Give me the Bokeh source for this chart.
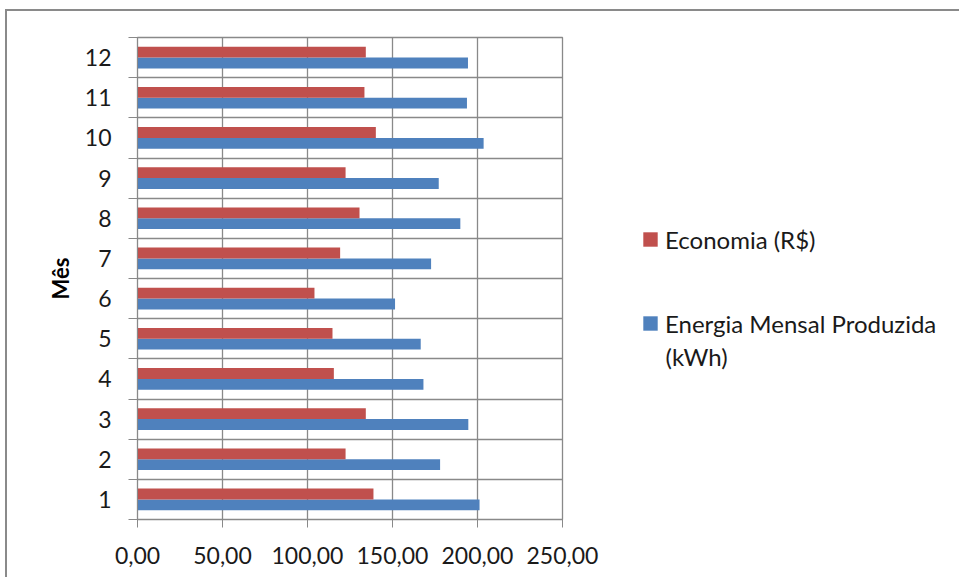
from bokeh.plotting import figure
from bokeh.models import (ColumnDataSource, Range1d, FixedTicker, Legend, LegendItem, Label)
from bokeh.layouts import row
from bokeh.transform import dodge
from bokeh.embed import file_html
from bokeh.resources import INLINE

# ---- data ----
meses = [1, 2, 3, 4, 5, 6, 7, 8, 9, 10, 11, 12]
economia = [138.8, 122.4, 134.3, 115.5, 114.7, 104.1, 119.2, 130.6, 122.4, 140.2, 133.5, 134.3]
energia = [201.2, 178.0, 194.6, 168.2, 166.6, 151.5, 172.7, 189.9, 177.2, 203.6, 193.8, 194.4]
x_ticks = [0, 50, 100, 150, 200, 250]
x_tick_labels = ["0,00", "50,00", "100,00", "150,00", "200,00", "250,00"]
serie_economia = "Economia (R$)"
serie_energia = "Energia Mensal Produzida (kWh)"
y_label = "Mês"

FONT = "Lato"
GRID = "#898989"
RED = "#C0504D"
BLUE = "#4F81BD"
TXT = "#1a1a1a"

W, H = 959, 577
TOP, BOTTOM = 37, 58
P_W = 602

src = ColumnDataSource(dict(mes=meses, economia=economia, energia=energia))

# ---------------- main chart ----------------
p = figure(width=P_W, height=H, output_backend="svg", toolbar_location=None,
           x_range=Range1d(0, 250), y_range=Range1d(0.5, 12.5),
           min_border_left=137, min_border_right=40, min_border_top=TOP,
           min_border_bottom=BOTTOM)
p.outline_line_color = GRID
p.outline_line_width = 1.3
p.background_fill_color = "white"
p.border_fill_color = None

p.hbar(y=dodge("mes", -0.135, range=p.y_range), right="energia", left=0,
       height=0.27, source=src, fill_color=BLUE, line_color=None)
p.hbar(y=dodge("mes", 0.135, range=p.y_range), right="economia", left=0,
       height=0.27, source=src, fill_color=RED, line_color=None)

boundaries = [m - 0.5 for m in meses] + [meses[-1] + 0.5]

# x axis
p.xaxis.ticker = FixedTicker(ticks=x_ticks, minor_ticks=[])
p.xaxis.major_label_overrides = {t: l for t, l in zip(x_ticks, x_tick_labels)}
p.xaxis.axis_line_color = GRID
p.xaxis.major_tick_line_color = GRID
p.xaxis.major_tick_out = 8
p.xaxis.major_tick_in = 0
p.xaxis.minor_tick_line_color = None
p.xaxis.major_label_text_font = FONT
p.xaxis.major_label_text_font_size = "23px"
p.xaxis.major_label_text_color = TXT
p.xaxis.major_label_standoff = 19

# y axis
p.yaxis.ticker = FixedTicker(ticks=meses, minor_ticks=boundaries)
p.yaxis.axis_line_color = GRID
p.yaxis.major_tick_line_color = None
p.yaxis.major_tick_out = 0
p.yaxis.major_tick_in = 0
p.yaxis.minor_tick_line_color = GRID
p.yaxis.minor_tick_out = 9
p.yaxis.minor_tick_in = 0
p.yaxis.major_label_text_font = FONT
p.yaxis.major_label_text_font_size = "23px"
p.yaxis.major_label_text_color = TXT
p.yaxis.major_label_standoff = 17
p.yaxis.axis_label = y_label
p.yaxis.axis_label_text_font = FONT
p.yaxis.axis_label_text_font_style = "bold"
p.yaxis.axis_label_text_font_size = "22px"
p.yaxis.axis_label_text_color = "#000000"
p.yaxis.axis_label_standoff = 8

# grids
p.xgrid.ticker = FixedTicker(ticks=x_ticks[1:])
p.ygrid.ticker = FixedTicker(ticks=boundaries)
p.xgrid.grid_line_color = GRID
p.ygrid.grid_line_color = GRID
p.xgrid.grid_line_width = 1.3
p.ygrid.grid_line_width = 1.3

# ---------------- legend panel ----------------
Q_W = W - P_W
q = figure(width=Q_W, height=H, output_backend="svg", toolbar_location=None,
           x_range=Range1d(0, Q_W), y_range=Range1d(BOTTOM, H - TOP),
           x_axis_type=None, y_axis_type=None,
           min_border_left=0, min_border_right=0, min_border_top=TOP,
           min_border_bottom=BOTTOM)
q.outline_line_color = None
q.background_fill_color = None
q.border_fill_color = None
q.grid.visible = False

nan = float("nan")
leg_ec = q.hbar(y=[nan], right=[nan], height=0.3, fill_color=RED, line_color=None)
leg_en = q.hbar(y=[nan], right=[nan], height=0.3, fill_color=BLUE, line_color=None)

en_line1, en_line2 = serie_energia.rsplit(" ", 1)
legend = Legend(items=[LegendItem(label=serie_economia, renderers=[leg_ec]),
                       LegendItem(label=en_line1, renderers=[leg_en])],
                location=(39, 180), orientation="vertical",
                label_text_font=FONT, label_text_font_size="24px",
                label_text_color=TXT, label_height=32,
                glyph_width=18, glyph_height=18, spacing=52, padding=0,
                margin=0, label_standoff=6,
                border_line_color=None, background_fill_alpha=0)
q.add_layout(legend, "center")
q.add_layout(Label(x=63, y=221, text=en_line2, text_baseline="middle",
                   text_font=FONT, text_font_size="24px", text_color=TXT))

layout = row(p, q, styles={"background-color": "white",
                           "box-shadow": "inset 5px 9px 0 0 white, inset 7px 11px 0 0 #8a8a8a"})

open("out.html", "w").write(file_html(layout, INLINE))
